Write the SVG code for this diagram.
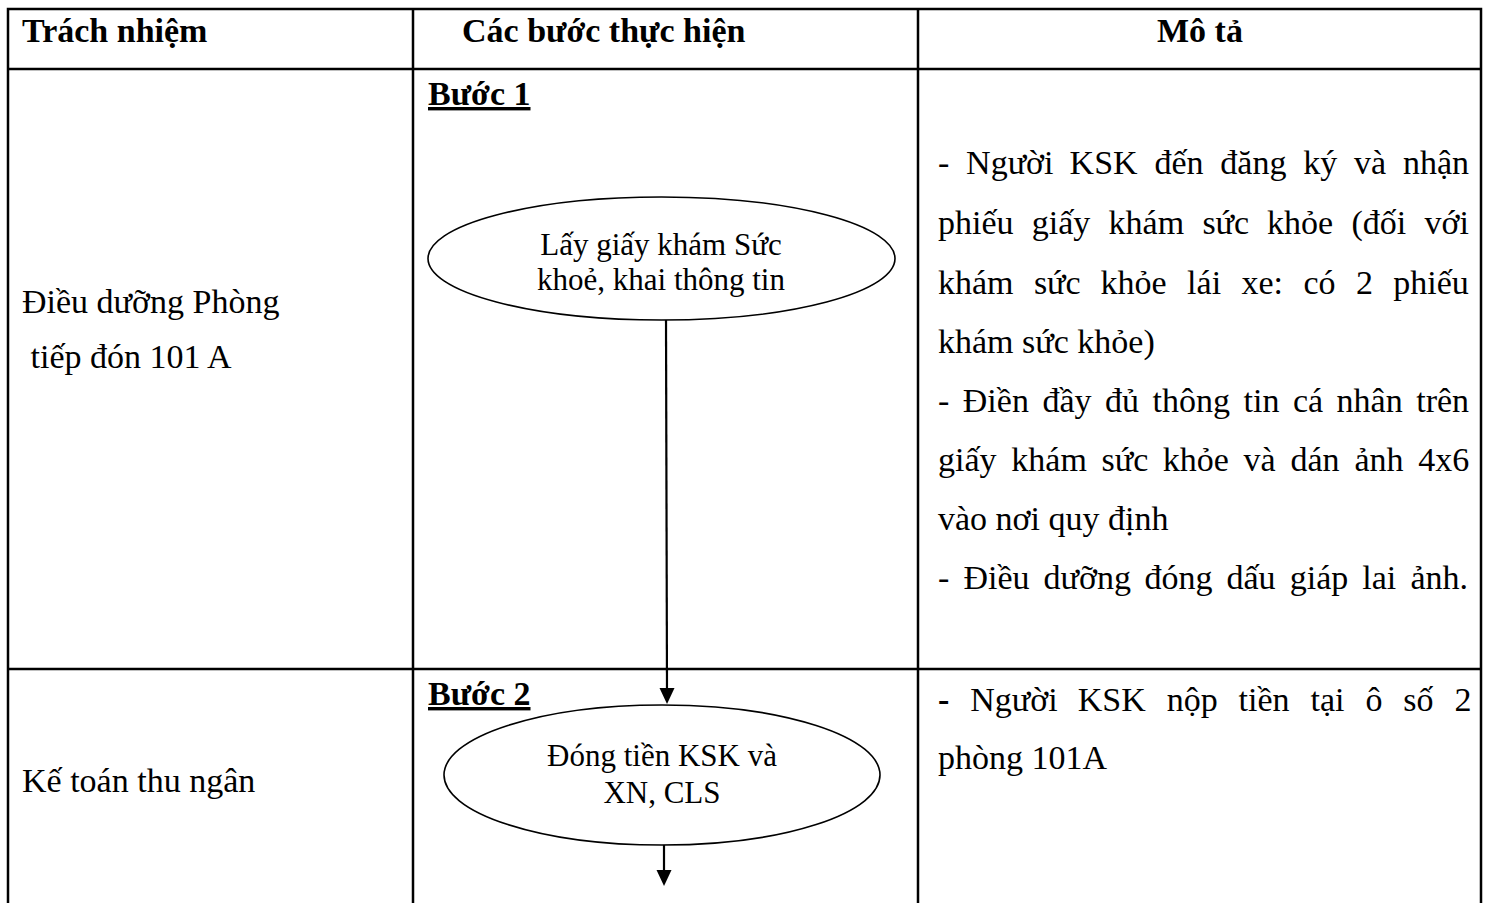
<svg xmlns="http://www.w3.org/2000/svg" width="1489" height="903" viewBox="0 0 1489 903">
<style>
.grid{stroke:#000;stroke-width:2.5;fill:none}
.hd{font-family:"Liberation Serif","Times New Roman",serif;font-weight:bold;font-size:34px;fill:#000}
.tx{font-family:"Liberation Serif","Times New Roman",serif;font-size:34px;fill:#000}
.el{font-family:"Liberation Serif","Times New Roman",serif;font-size:31px;fill:#000}
.step{font-family:"Liberation Serif","Times New Roman",serif;font-weight:bold;font-size:34px;fill:#000;text-decoration:underline}
.shape{fill:#fff;stroke:#000;stroke-width:1.6}
.conn{stroke:#000;stroke-width:2.2;fill:none}
</style>
<rect width="1489" height="903" fill="#fff"/>
<g id="table">
<path class="grid" d="M8,910 L8,9 L1481,9 L1481,910 M413,9 L413,910 M918,9 L918,910 M8,69 L1481,69 M8,669 L1481,669"/>
<text class="hd" x="22" y="42">Trách nhiệm</text>
<text class="hd" x="462" y="42">Các bước thực hiện</text>
<text class="hd" x="1200" y="42" text-anchor="middle">Mô tả</text>
</g>
<g id="row1">
<text class="tx" x="22" y="313">Điều dưỡng Phòng</text>
<text class="tx" x="22" y="368" xml:space="preserve"> tiếp đón 101 A</text>
<text class="step" x="428" y="105">Bước 1</text>
<text class="tx" y="174"><tspan x="938">-</tspan><tspan x="966.1">Người</tspan><tspan x="1069.6">KSK</tspan><tspan x="1154.4">đến</tspan><tspan x="1220.3">đăng</tspan><tspan x="1303.2">ký</tspan><tspan x="1354">và</tspan><tspan x="1402.9">nhận</tspan></text>
<text class="tx" y="234"><tspan x="938">phiếu</tspan><tspan x="1031.8">giấy</tspan><tspan x="1108.6">khám</tspan><tspan x="1202.4">sức</tspan><tspan x="1267">khỏe</tspan><tspan x="1351.4">(đối</tspan><tspan x="1424.5">với</tspan></text>
<text class="tx" y="294"><tspan x="938">khám</tspan><tspan x="1033.9">sức</tspan><tspan x="1100.6">khỏe</tspan><tspan x="1187.1">lái</tspan><tspan x="1241.5">xe:</tspan><tspan x="1303.4">có</tspan><tspan x="1355.9">2</tspan><tspan x="1393.3">phiếu</tspan></text>
<text class="tx" x="938" y="353">khám sức khỏe)</text>
<text class="tx" y="412"><tspan x="938">-</tspan><tspan x="962.8">Điền</tspan><tspan x="1042.4">đầy</tspan><tspan x="1105">đủ</tspan><tspan x="1152.5">thông</tspan><tspan x="1243.5">tin</tspan><tspan x="1292.9">cá</tspan><tspan x="1336.6">nhân</tspan><tspan x="1416.2">trên</tspan></text>
<text class="tx" y="471"><tspan x="938">giấy</tspan><tspan x="1011.3">khám</tspan><tspan x="1101.6">sức</tspan><tspan x="1162.7">khỏe</tspan><tspan x="1243.6">và</tspan><tspan x="1290.5">dán</tspan><tspan x="1354.4">ảnh</tspan><tspan x="1418.3">4x6</tspan></text>
<text class="tx" x="938" y="530">vào nơi quy định</text>
<text class="tx" y="589"><tspan x="938">-</tspan><tspan x="963.4">Điều</tspan><tspan x="1043.6">dưỡng</tspan><tspan x="1144.4">đóng</tspan><tspan x="1226.5">dấu</tspan><tspan x="1289.7">giáp</tspan><tspan x="1362.3">lai</tspan><tspan x="1410.4">ảnh.</tspan></text>
</g>
<g id="node1">
<ellipse class="shape" cx="661.5" cy="258.5" rx="233.5" ry="61.5"/>
<text class="el" x="661" y="255" text-anchor="middle">Lấy giấy khám Sức</text>
<text class="el" x="661" y="290" text-anchor="middle">khoẻ, khai thông tin</text>
</g>
<g id="row2">
<text class="tx" x="22" y="792">Kế toán thu ngân</text>
<text class="step" x="428" y="705">Bước 2</text>
<text class="tx" y="711"><tspan x="938" font-weight="bold">-</tspan><tspan x="970.2">Người</tspan><tspan x="1077.8">KSK</tspan><tspan x="1166.7">nộp</tspan><tspan x="1238.6">tiền</tspan><tspan x="1310.5">tại</tspan><tspan x="1365.4">ô</tspan><tspan x="1403.3">số</tspan><tspan x="1454.4">2</tspan></text>
<text class="tx" x="938" y="769">phòng 101A</text>
</g>
<g id="node2">
<ellipse class="shape" cx="662" cy="775" rx="218" ry="70"/>
<text class="el" x="662" y="766" text-anchor="middle">Đóng tiền KSK và</text>
<text class="el" x="662" y="803" text-anchor="middle">XN, CLS</text>
</g>
<g id="connectors">
<line class="conn" x1="666" y1="320" x2="667" y2="690"/>
<path d="M659.5,688 L674.5,688 L667,704 Z" fill="#000"/>
<line class="conn" x1="664" y1="845" x2="664" y2="872"/>
<path d="M656.5,870 L671.5,870 L664,886 Z" fill="#000"/>
</g>
</svg>
